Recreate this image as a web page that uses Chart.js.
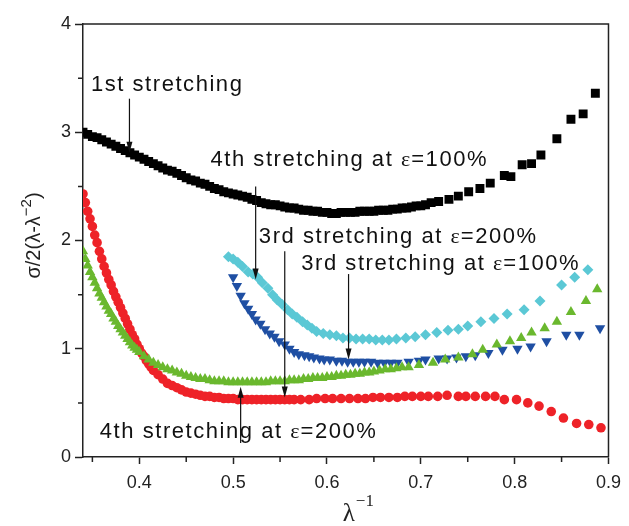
<!DOCTYPE html>
<html>
<head>
<meta charset="utf-8">
<script src="https://cdn.jsdelivr.net/npm/chart.js@4.4.0/dist/chart.umd.min.js"></script>
<style>
  body { margin: 0; background: #fff; }
</style>
</head>
<body>
<canvas id="chart" width="629" height="526"></canvas>
<script>
// 1st stretching (black squares)
const xFirst = [0.340, 0.345, 0.350, 0.355, 0.360, 0.365, 0.370, 0.375, 0.380, 0.385, 0.390, 0.395, 0.400, 0.405, 0.410, 0.415, 0.420, 0.425, 0.430, 0.435, 0.440, 0.445, 0.450, 0.455, 0.460, 0.465, 0.470, 0.475, 0.480, 0.485, 0.490, 0.495, 0.500, 0.505, 0.510, 0.515, 0.520, 0.525, 0.530, 0.535, 0.540, 0.545, 0.550, 0.555, 0.560, 0.565, 0.570, 0.575, 0.580, 0.585, 0.590, 0.595, 0.600, 0.605, 0.610, 0.615, 0.620, 0.625, 0.630, 0.635, 0.640, 0.645, 0.650, 0.655, 0.660, 0.665, 0.670, 0.675, 0.680, 0.685, 0.690, 0.695, 0.700, 0.705, 0.711, 0.719, 0.730, 0.740, 0.751, 0.763, 0.774, 0.789, 0.796, 0.808, 0.818, 0.828, 0.845, 0.860, 0.873, 0.886]
const yFirst = [3.00, 2.98, 2.96, 2.95, 2.93, 2.91, 2.89, 2.87, 2.85, 2.83, 2.81, 2.79, 2.77, 2.75, 2.73, 2.71, 2.69, 2.67, 2.65, 2.64, 2.62, 2.60, 2.58, 2.56, 2.55, 2.53, 2.52, 2.50, 2.48, 2.47, 2.45, 2.44, 2.43, 2.42, 2.41, 2.40, 2.38, 2.37, 2.35, 2.34, 2.33, 2.33, 2.32, 2.31, 2.30, 2.30, 2.29, 2.28, 2.28, 2.27, 2.27, 2.26, 2.26, 2.25, 2.25, 2.26, 2.26, 2.26, 2.26, 2.27, 2.27, 2.27, 2.27, 2.28, 2.28, 2.28, 2.29, 2.29, 2.30, 2.30, 2.31, 2.32, 2.32, 2.33, 2.35, 2.36, 2.38, 2.41, 2.45, 2.48, 2.53, 2.60, 2.59, 2.70, 2.71, 2.79, 2.94, 3.12, 3.17, 3.36]

// 3rd stretching at 200% (red circles)
const xRed = [0.3400, 0.3425, 0.3450, 0.3475, 0.3500, 0.3525, 0.3550, 0.3575, 0.3600, 0.3625, 0.3650, 0.3675, 0.3700, 0.3725, 0.3750, 0.3775, 0.3800, 0.3825, 0.3850, 0.3875, 0.3900, 0.3925, 0.3950, 0.3975, 0.4000, 0.4025, 0.4050, 0.4075, 0.4100, 0.4125, 0.4150, 0.420, 0.425, 0.430, 0.435, 0.440, 0.445, 0.450, 0.455, 0.460, 0.465, 0.470, 0.475, 0.480, 0.485, 0.490, 0.495, 0.500, 0.505, 0.510, 0.515, 0.520, 0.525, 0.530, 0.535, 0.540, 0.545, 0.550, 0.555, 0.560, 0.565, 0.572, 0.581, 0.589, 0.598, 0.606, 0.615, 0.624, 0.633, 0.641, 0.649, 0.657, 0.666, 0.675, 0.683, 0.691, 0.700, 0.708, 0.718, 0.728, 0.740, 0.748, 0.758, 0.769, 0.779, 0.789, 0.802, 0.814, 0.826, 0.839, 0.852, 0.866, 0.879, 0.892]
const yRed = [2.43, 2.35, 2.27, 2.20, 2.13, 2.05, 1.98, 1.90, 1.83, 1.76, 1.70, 1.64, 1.59, 1.53, 1.48, 1.43, 1.38, 1.33, 1.28, 1.23, 1.18, 1.13, 1.09, 1.04, 1.00, 0.96, 0.93, 0.89, 0.86, 0.83, 0.80, 0.76, 0.72, 0.68, 0.66, 0.64, 0.62, 0.60, 0.59, 0.58, 0.57, 0.56, 0.56, 0.55, 0.55, 0.54, 0.54, 0.54, 0.53, 0.53, 0.53, 0.53, 0.53, 0.53, 0.53, 0.53, 0.53, 0.53, 0.53, 0.53, 0.53, 0.53, 0.53, 0.54, 0.54, 0.54, 0.54, 0.54, 0.54, 0.54, 0.55, 0.55, 0.55, 0.55, 0.56, 0.56, 0.56, 0.56, 0.56, 0.57, 0.56, 0.56, 0.56, 0.56, 0.56, 0.53, 0.53, 0.50, 0.47, 0.42, 0.36, 0.31, 0.30, 0.27]

// 4th stretching at 200% (green triangles)
const xGreen = [0.3400, 0.3425, 0.3450, 0.3475, 0.3500, 0.3525, 0.3550, 0.3575, 0.3600, 0.3625, 0.3650, 0.3675, 0.3700, 0.3725, 0.3750, 0.3775, 0.3800, 0.3825, 0.3850, 0.3875, 0.3900, 0.3925, 0.3950, 0.3975, 0.400, 0.405, 0.410, 0.415, 0.420, 0.425, 0.430, 0.435, 0.440, 0.445, 0.450, 0.455, 0.460, 0.465, 0.470, 0.475, 0.480, 0.485, 0.490, 0.495, 0.500, 0.505, 0.510, 0.515, 0.520, 0.525, 0.530, 0.535, 0.540, 0.545, 0.550, 0.555, 0.560, 0.565, 0.570, 0.575, 0.580, 0.585, 0.590, 0.595, 0.600, 0.605, 0.610, 0.615, 0.620, 0.625, 0.630, 0.635, 0.640, 0.645, 0.650, 0.656, 0.662, 0.668, 0.674, 0.680, 0.687, 0.698, 0.713, 0.726, 0.740, 0.755, 0.766, 0.781, 0.795, 0.807, 0.818, 0.832, 0.845, 0.860, 0.876, 0.888]
const yGreen = [1.90, 1.83, 1.77, 1.71, 1.66, 1.61, 1.56, 1.51, 1.47, 1.43, 1.39, 1.35, 1.32, 1.28, 1.25, 1.21, 1.18, 1.15, 1.12, 1.09, 1.06, 1.03, 1.01, 0.99, 0.97, 0.93, 0.90, 0.87, 0.85, 0.83, 0.81, 0.80, 0.78, 0.77, 0.75, 0.74, 0.73, 0.72, 0.72, 0.71, 0.70, 0.70, 0.70, 0.69, 0.69, 0.69, 0.69, 0.69, 0.69, 0.69, 0.69, 0.69, 0.70, 0.70, 0.70, 0.70, 0.71, 0.71, 0.71, 0.72, 0.72, 0.73, 0.73, 0.73, 0.74, 0.74, 0.75, 0.75, 0.76, 0.76, 0.77, 0.77, 0.78, 0.78, 0.79, 0.80, 0.81, 0.81, 0.82, 0.83, 0.83, 0.85, 0.87, 0.90, 0.92, 0.95, 0.99, 1.04, 1.07, 1.10, 1.15, 1.19, 1.25, 1.34, 1.44, 1.55]

// 3rd stretching at 100% (blue down triangles)
const xBlue = [0.500, 0.504, 0.508, 0.512, 0.516, 0.520, 0.524, 0.529, 0.534, 0.539, 0.544, 0.549, 0.555, 0.560, 0.565, 0.570, 0.576, 0.581, 0.586, 0.592, 0.597, 0.603, 0.610, 0.616, 0.622, 0.628, 0.634, 0.640, 0.647, 0.654, 0.661, 0.668, 0.675, 0.687, 0.698, 0.705, 0.719, 0.728, 0.738, 0.748, 0.758, 0.772, 0.787, 0.803, 0.817, 0.834, 0.855, 0.869, 0.891]
const yBlue = [1.66, 1.58, 1.49, 1.42, 1.37, 1.32, 1.27, 1.23, 1.18, 1.14, 1.11, 1.07, 1.04, 1.00, 0.97, 0.95, 0.94, 0.93, 0.92, 0.91, 0.90, 0.90, 0.89, 0.89, 0.88, 0.88, 0.88, 0.88, 0.88, 0.87, 0.87, 0.87, 0.87, 0.88, 0.89, 0.90, 0.91, 0.91, 0.92, 0.93, 0.94, 0.96, 0.99, 1.00, 1.02, 1.07, 1.13, 1.13, 1.19]

// 4th stretching at 100% (cyan diamonds)
const xCyan = [0.495, 0.500, 0.505, 0.510, 0.516, 0.521, 0.526, 0.531, 0.537, 0.542, 0.547, 0.552, 0.558, 0.563, 0.568, 0.574, 0.579, 0.584, 0.589, 0.596, 0.603, 0.610, 0.617, 0.624, 0.631, 0.638, 0.645, 0.652, 0.659, 0.666, 0.674, 0.684, 0.694, 0.705, 0.717, 0.729, 0.740, 0.750, 0.764, 0.778, 0.792, 0.810, 0.827, 0.850, 0.864, 0.878]
const yCyan = [1.85, 1.83, 1.80, 1.76, 1.71, 1.69, 1.66, 1.61, 1.56, 1.50, 1.45, 1.41, 1.36, 1.32, 1.29, 1.25, 1.22, 1.19, 1.16, 1.14, 1.13, 1.12, 1.10, 1.10, 1.09, 1.09, 1.09, 1.08, 1.08, 1.08, 1.09, 1.10, 1.11, 1.13, 1.15, 1.17, 1.18, 1.21, 1.25, 1.28, 1.32, 1.36, 1.44, 1.59, 1.66, 1.73]

const xTicks = [0.4, 0.5, 0.6, 0.7, 0.8, 0.9]
const xMinorTicks = [0.35, 0.45, 0.55, 0.65, 0.75, 0.85]
const yMinorTicks = [0.5, 1.5, 2.5, 3.5]

// annotations: text anchored at (x, y) in data units, arrows from y1 to y2
const notes = [
  { text: ['1st stretching'], x: 0.3484, y: 3.38 },
  { text: ['4th stretching at ', 'ε', '=100%'], x: 0.4758, y: 2.685 },
  { text: ['3rd stretching at ', 'ε', '=200%'], x: 0.5274, y: 1.98 },
  { text: ['3rd stretching at ', 'ε', '=100%'], x: 0.5726, y: 1.73 },
  { text: ['4th stretching at ', 'ε', '=200%'], x: 0.3579, y: 0.176 },
]
const arrows = [
  { x: 0.3895, y1: 3.31, y2: 2.81 },
  { x: 0.524, y1: 2.50, y2: 1.64 },
  { x: 0.555, y1: 1.90, y2: 0.55 },
  { x: 0.623, y1: 1.69, y2: 0.90 },
  { x: 0.508, y1: 0.13, y2: 0.65 },
]

function toPoints(xs, ys) {
  return xs.map((x, i) => ({ x: x, y: ys[i] }))
}

const axisColor = '#222'
const sans = '"Liberation Sans", Arial, sans-serif'
const serif = '"Liberation Serif", "Times New Roman", serif'

const extrasPlugin = {
  id: 'extras',
  afterDraw(chart) {
    const ctx = chart.ctx
    const area = chart.chartArea
    const xs = chart.scales.x
    const ys = chart.scales.y
    ctx.save()
    // top and right frame
    ctx.strokeStyle = axisColor
    ctx.lineWidth = 1.5
    ctx.beginPath()
    ctx.moveTo(area.left, area.top)
    ctx.lineTo(area.right, area.top)
    ctx.lineTo(area.right, area.bottom)
    ctx.stroke()
    // minor ticks
    ctx.beginPath()
    xMinorTicks.forEach(v => {
      const px = xs.getPixelForValue(v)
      ctx.moveTo(px, area.bottom)
      ctx.lineTo(px, area.bottom + 5)
    })
    yMinorTicks.forEach(v => {
      const py = ys.getPixelForValue(v)
      ctx.moveTo(area.left, py)
      ctx.lineTo(area.left - 5, py)
    })
    ctx.stroke()

    // axis titles
    ctx.fillStyle = '#222'
    ctx.textBaseline = 'alphabetic'
    ctx.textAlign = 'left'
    // x: lambda^-1
    let tx = (area.left + area.right) / 2 - 3
    ctx.font = '25px ' + serif
    ctx.fillText('λ', tx, 521)
    tx += ctx.measureText('λ').width + 1
    ctx.font = '17px ' + serif
    ctx.fillText('−1', tx, 506)
    // y: sigma/2(lambda-lambda^-2)
    ctx.save()
    ctx.translate(40, (area.top + area.bottom) / 2 - 5)
    ctx.rotate(-Math.PI / 2)
    ctx.font = '20px ' + sans
    const a = 'σ/2(λ-λ'
    const wa = ctx.measureText(a).width
    ctx.font = '15px ' + sans
    const wb = ctx.measureText('−2').width
    ctx.font = '20px ' + sans
    const wc = ctx.measureText(')').width
    let ox = -(wa + wb + wc) / 2
    ctx.fillText(a, ox, 0)
    ox += wa
    ctx.font = '15px ' + sans
    ctx.fillText('−2', ox, -9)
    ox += wb
    ctx.font = '20px ' + sans
    ctx.fillText(')', ox, 0)
    ctx.restore()

    // arrows
    ctx.strokeStyle = '#111'
    ctx.fillStyle = '#111'
    ctx.lineWidth = 1.2
    arrows.forEach(a => {
      const px = xs.getPixelForValue(a.x)
      const p1 = ys.getPixelForValue(a.y1)
      const p2 = ys.getPixelForValue(a.y2)
      const dir = p2 > p1 ? 1 : -1
      ctx.beginPath()
      ctx.moveTo(px, p1)
      ctx.lineTo(px, p2 - dir * 6)
      ctx.stroke()
      ctx.beginPath()
      ctx.moveTo(px, p2)
      ctx.lineTo(px - 3, p2 - dir * 11)
      ctx.lineTo(px + 3, p2 - dir * 11)
      ctx.closePath()
      ctx.fill()
    })

    // texts
    ctx.fillStyle = '#111'
    notes.forEach(n => {
      let px = xs.getPixelForValue(n.x)
      const py = ys.getPixelForValue(n.y)
      n.text.forEach(part => {
        if (part === 'ε') {
          ctx.letterSpacing = '1px'
          ctx.font = '22px ' + serif
        } else {
          ctx.letterSpacing = '1.55px'
          ctx.font = '22px ' + sans
        }
        ctx.fillText(part, px, py)
        px += ctx.measureText(part).width
      })
    })
    ctx.restore()
  }
}

new Chart('chart', {
  type: 'scatter',
  data: {
    datasets: [
      {
        label: '4th stretching at 200%',
        data: toPoints(xGreen, yGreen),
        pointStyle: 'triangle',
        pointRadius: 6,
        backgroundColor: '#6ab82e',
        borderWidth: 0,
        clip: 0,
      },
      {
        label: '3rd stretching at 200%',
        data: toPoints(xRed, yRed),
        pointStyle: 'circle',
        pointRadius: 4.8,
        backgroundColor: '#ee2228',
        borderWidth: 0,
        clip: 0,
      },
      {
        label: '1st stretching',
        data: toPoints(xFirst, yFirst),
        pointStyle: 'rect',
        pointRadius: 6.3,
        backgroundColor: '#000',
        borderWidth: 0,
        clip: 0,
      },
      {
        label: '3rd stretching at 100%',
        data: toPoints(xBlue, yBlue),
        pointStyle: 'triangle',
        rotation: 180,
        pointRadius: 6,
        backgroundColor: '#1f4fa3',
        borderWidth: 0,
        clip: 0,
      },
      {
        label: '4th stretching at 100%',
        data: toPoints(xCyan, yCyan),
        pointStyle: 'rectRot',
        pointRadius: 5.5,
        backgroundColor: '#5bc8d5',
        borderWidth: 0,
        clip: 0,
      },
    ],
  },
  options: {
    responsive: false,
    animation: false,
    devicePixelRatio: 1,
    layout: { padding: { top: 24, right: 13, left: 0, bottom: 0 } },
    plugins: {
      legend: { display: false },
      tooltip: { enabled: false },
    },
    scales: {
      x: {
        type: 'linear',
        min: 0.34,
        max: 0.9,
        afterBuildTicks: scale => {
          scale.ticks = xTicks.map(v => ({ value: v }))
        },
        afterFit: scale => {
          scale.height = 69
        },
        ticks: {
          autoSkip: false,
          maxRotation: 0,
          padding: 8,
          color: '#222',
          font: { family: sans, size: 18 },
          callback: v => v.toFixed(1),
        },
        grid: { drawOnChartArea: false, tickLength: 7, tickWidth: 1.5, tickColor: axisColor },
        border: { display: true, color: axisColor, width: 1.5 },
      },
      y: {
        type: 'linear',
        min: 0,
        max: 4,
        afterFit: scale => {
          scale.width = 83
        },
        ticks: {
          stepSize: 1,
          padding: 4,
          color: '#222',
          font: { family: sans, size: 18 },
        },
        grid: { drawOnChartArea: false, tickLength: 8, tickWidth: 1.5, tickColor: axisColor },
        border: { display: true, color: axisColor, width: 1.5 },
      },
    },
  },
  plugins: [extrasPlugin],
})
</script>
</body>
</html>
